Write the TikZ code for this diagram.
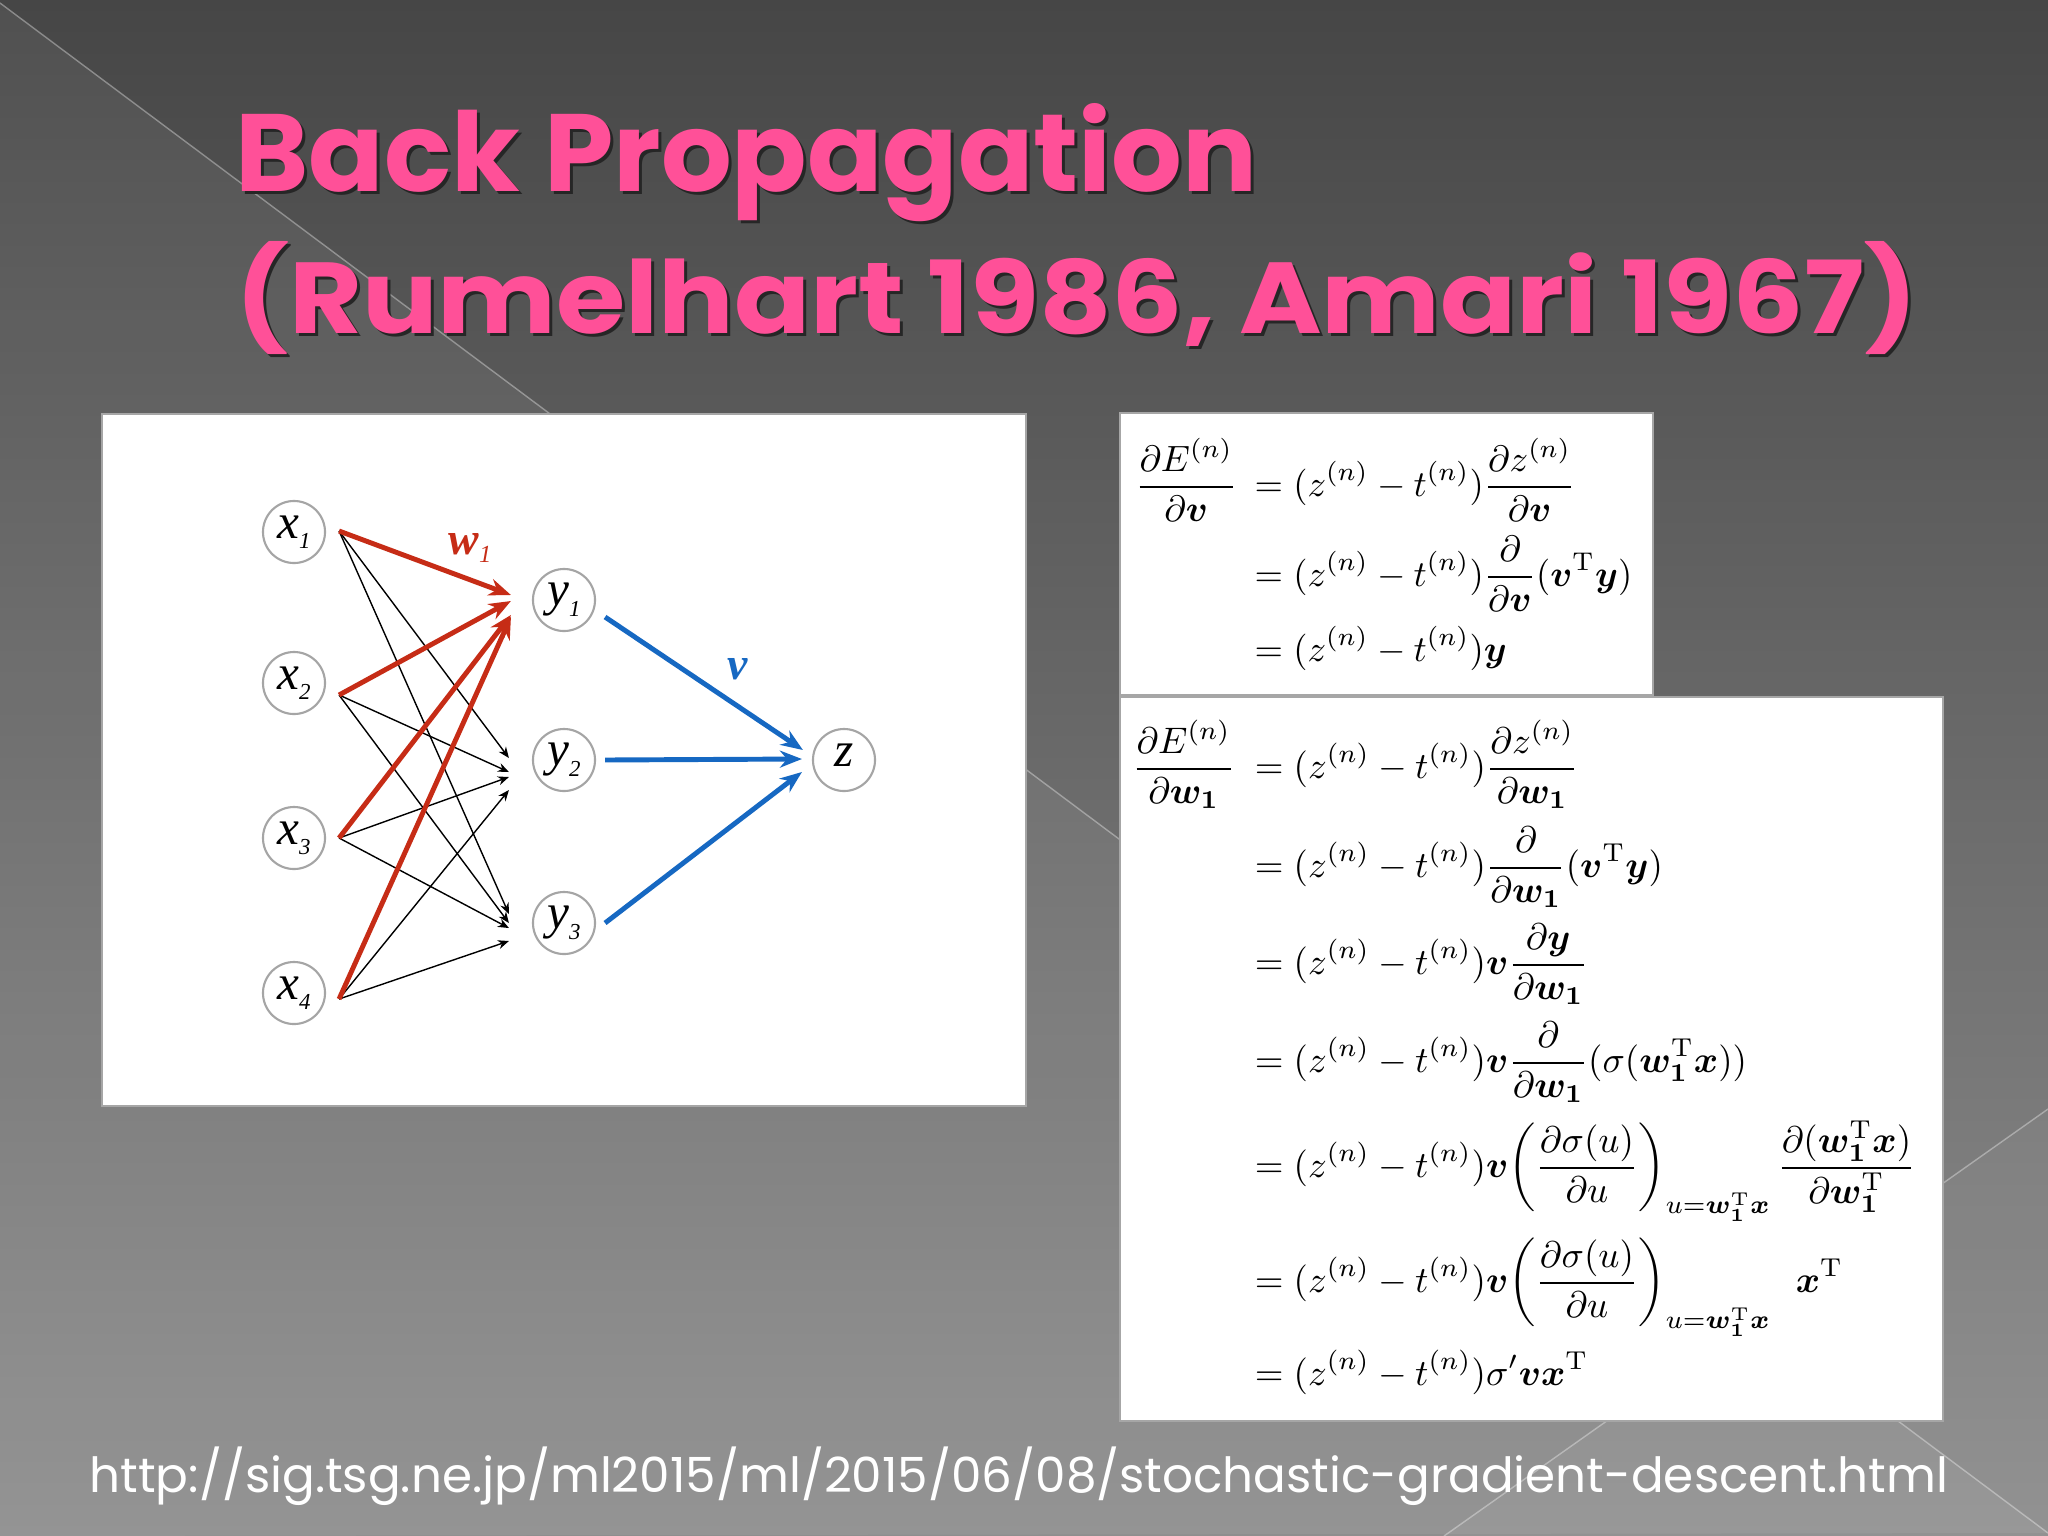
\documentclass[tikz,border=0pt]{standalone}
\usepackage{fontspec}
\usepackage{amsmath,bm}
\usetikzlibrary{calc,arrows.meta}
\newfontfamily\titlefont{Poppins}
\newfontfamily\netfont{Liberation Serif}
\definecolor{bgtop}{RGB}{70,70,70}
\definecolor{bgbot}{RGB}{142,142,142}
\definecolor{titlepink}{RGB}{255,80,152}
\definecolor{wred}{RGB}{198,44,22}
\definecolor{vblue}{RGB}{22,104,194}
\definecolor{ringgray}{RGB}{165,165,165}
\def\zt{(z^{(n)}-t^{(n)})}
\def\wone{\bm{w}_{\bm{1}}}
\def\nlab#1#2{{\netfont\fontsize{14pt}{16pt}\selectfont\itshape #1\raisebox{-0.45ex}{\fontsize{6.5pt}{7pt}\selectfont #2}}}
\def\titleone{\resizebox{10.21cm}{0.88cm}{\titlefont\bfseries Back Propagation}}
\def\titletwo{\resizebox{16.81cm}{0.92cm}{\titlefont\bfseries (Rumelhart 1986, Amari 1967)}}
\tikzset{
  unit/.style={circle,draw=ringgray,line width=0.6pt,fill=white,minimum size=0.62cm,inner sep=0pt},
  blk/.style={-{Stealth[length=1.1mm,width=0.9mm]},line width=0.4pt},
  redw/.style={-{Stealth[length=2.2mm,width=1.7mm]},line width=1.4pt,wred},
  bluev/.style={-{Stealth[length=2.2mm,width=1.7mm]},line width=1.4pt,vblue},
  eqn/.style={inner sep=0pt,scale=1.05},
  eqnv/.style={inner sep=0pt,scale=1.04},
  pane/.style={fill=white,draw=black!35,line width=0.5pt},
  heading/.style={anchor=base west,inner sep=0pt}
}

\begin{document}
\begin{tikzpicture}[x=0.01cm,y=-0.01cm]
		%%%%% BACKGROUND %%%%%
		\useasboundingbox (0,0) rectangle (2048,1536);
		\shade[top color=bgtop,bottom color=bgbot] (0,0) rectangle (2048,1536);
		\fill[white,opacity=0.06] (0,3) -- (2048,1533) -- (0,1536) -- cycle;
		\fill[white,opacity=0.04] (1444,1536) -- (2048,1109) -- (2048,1536) -- cycle;
		\draw[white,opacity=0.35,line width=0.4pt] (0,3) -- (2048,1533);
		\draw[white,opacity=0.35,line width=0.4pt] (1444,1536) -- (2048,1109);
		
		%%%%% TITLE %%%%%
		\node[heading,text=black!85] (t1s) at (238,194) {\titleone};
		\node[heading,text=titlepink] (t1) at (235,191) {\titleone};
		\node[heading,text=black!85] (t2s) at (238,336) {\titletwo};
		\node[heading,text=titlepink] (t2) at (235,333) {\titletwo};
		
		%%%%% NETWORK %%%%%
		\draw[pane] (102,414) rectangle (1026,1106);
		
		\foreach \n/\yy in {1/532,2/683,3/838,4/993}
			\node[unit] (x\n) at (294,\yy) {\nlab{x}{\n}};
		\foreach \n/\yy in {1/600,2/760,3/923}
			\node[unit] (y\n) at (564,\yy) {\nlab{y}{\n}};
		\node[unit] (z) at (844,760) {\nlab{z}{}};
		
		\foreach \n/\dy in {1/-1,2/12,3/0,4/6}
			\coordinate (o\n) at ($(x\n.east)+(13,\dy)$);
		
		\foreach \n/\dy in {1/-2,2/12,3/17,4/30}
			\draw[blk] (o\n) -- ($(y2.west)+(-23,\dy)$);
		\foreach \n/\dy in {1/-9,2/0,3/5,4/18}
			\draw[blk] (o\n) -- ($(y3.west)+(-23,\dy)$);
		\foreach \n/\dy in {1/-5,2/1,3/15,4/17}
			\draw[redw] (o\n) -- ($(y1.west)+(-21,\dy)$);
		
		\draw[bluev] ($(y1.east)+(9,17)$) -- ($(z.west)+(-9,-10)$);
		\draw[bluev] ($(y2.east)+(9,0)$) -- ($(z.west)+(-10,-1)$);
		\draw[bluev] ($(y3.east)+(9,0)$) -- ($(z.west)+(-10,12)$);
		
		\node[text=wred] (wlab) at (470,548) {\netfont\fontsize{13pt}{15pt}\selectfont\bfseries\itshape w\raisebox{-0.4ex}{\fontsize{7pt}{8pt}\selectfont\mdseries 1}};
		\node[text=vblue] (vlab) at (738,669) {\netfont\fontsize{13pt}{15pt}\selectfont\bfseries\itshape v};
		
		%%%%% EQUATIONS %%%%%
		\draw[pane] (1120,413) rectangle (1653,695);
		\draw[pane] (1120,697) rectangle (1943,1421);
		
		\node[eqnv,anchor=base east] (a0) at (1238,496) {$\displaystyle\frac{\partial E^{(n)}}{\partial\bm{v}}$};
		\node[eqnv,anchor=base west] (a1) at (1254,496) {$\displaystyle =\zt\frac{\partial z^{(n)}}{\partial\bm{v}}$};
		\node[eqnv,anchor=base west] (a2) at (1254,586) {$\displaystyle =\zt\frac{\partial}{\partial\bm{v}}(\bm{v}^{\mathrm{T}}\bm{y})$};
		\node[eqnv,anchor=base west] (a3) at (1254,661) {$\displaystyle =\zt\bm{y}$};
		
		\node[eqn,anchor=base east] (b0) at (1236,778) {$\displaystyle\frac{\partial E^{(n)}}{\partial\wone}$};
		\node[eqn,anchor=base west] (b1) at (1254,778) {$\displaystyle =\zt\frac{\partial z^{(n)}}{\partial\wone}$};
		\node[eqn,anchor=base west] (b2) at (1254,877) {$\displaystyle =\zt\frac{\partial}{\partial\wone}(\bm{v}^{\mathrm{T}}\bm{y})$};
		\node[eqn,anchor=base west] (b3) at (1254,974) {$\displaystyle =\zt\bm{v}\frac{\partial\bm{y}}{\partial\wone}$};
		\node[eqn,anchor=base west] (b4) at (1254,1072) {$\displaystyle =\zt\bm{v}\frac{\partial}{\partial\wone}(\sigma(\wone^{\mathrm{T}}\bm{x}))$};
		\node[eqn,anchor=base west] (b5) at (1254,1177) {$\displaystyle =\zt\bm{v}\!\left(\frac{\partial\sigma(u)}{\partial u}\right)_{u=\wone^{\mathrm{T}}\bm{x}}\frac{\partial(\wone^{\mathrm{T}}\bm{x})}{\partial\wone^{\mathrm{T}}}$};
		\node[eqn,anchor=base west] (b6) at (1254,1292) {$\displaystyle =\zt\bm{v}\!\left(\frac{\partial\sigma(u)}{\partial u}\right)_{u=\wone^{\mathrm{T}}\bm{x}}\hspace{5pt}\bm{x}^{\mathrm{T}}$};
		\node[eqn,anchor=base west] (b7) at (1254,1385) {$\displaystyle =\zt\sigma'\bm{v}\bm{x}^{\mathrm{T}}$};
		
		%%%%% SOURCE %%%%%
		\node[heading,text=white] (src) at (89,1492) {\resizebox{18.57cm}{!}{\titlefont http://sig.tsg.ne.jp/ml2015/ml/2015/06/08/stochastic-gradient-descent.html}};
\end{tikzpicture}
\end{document}
